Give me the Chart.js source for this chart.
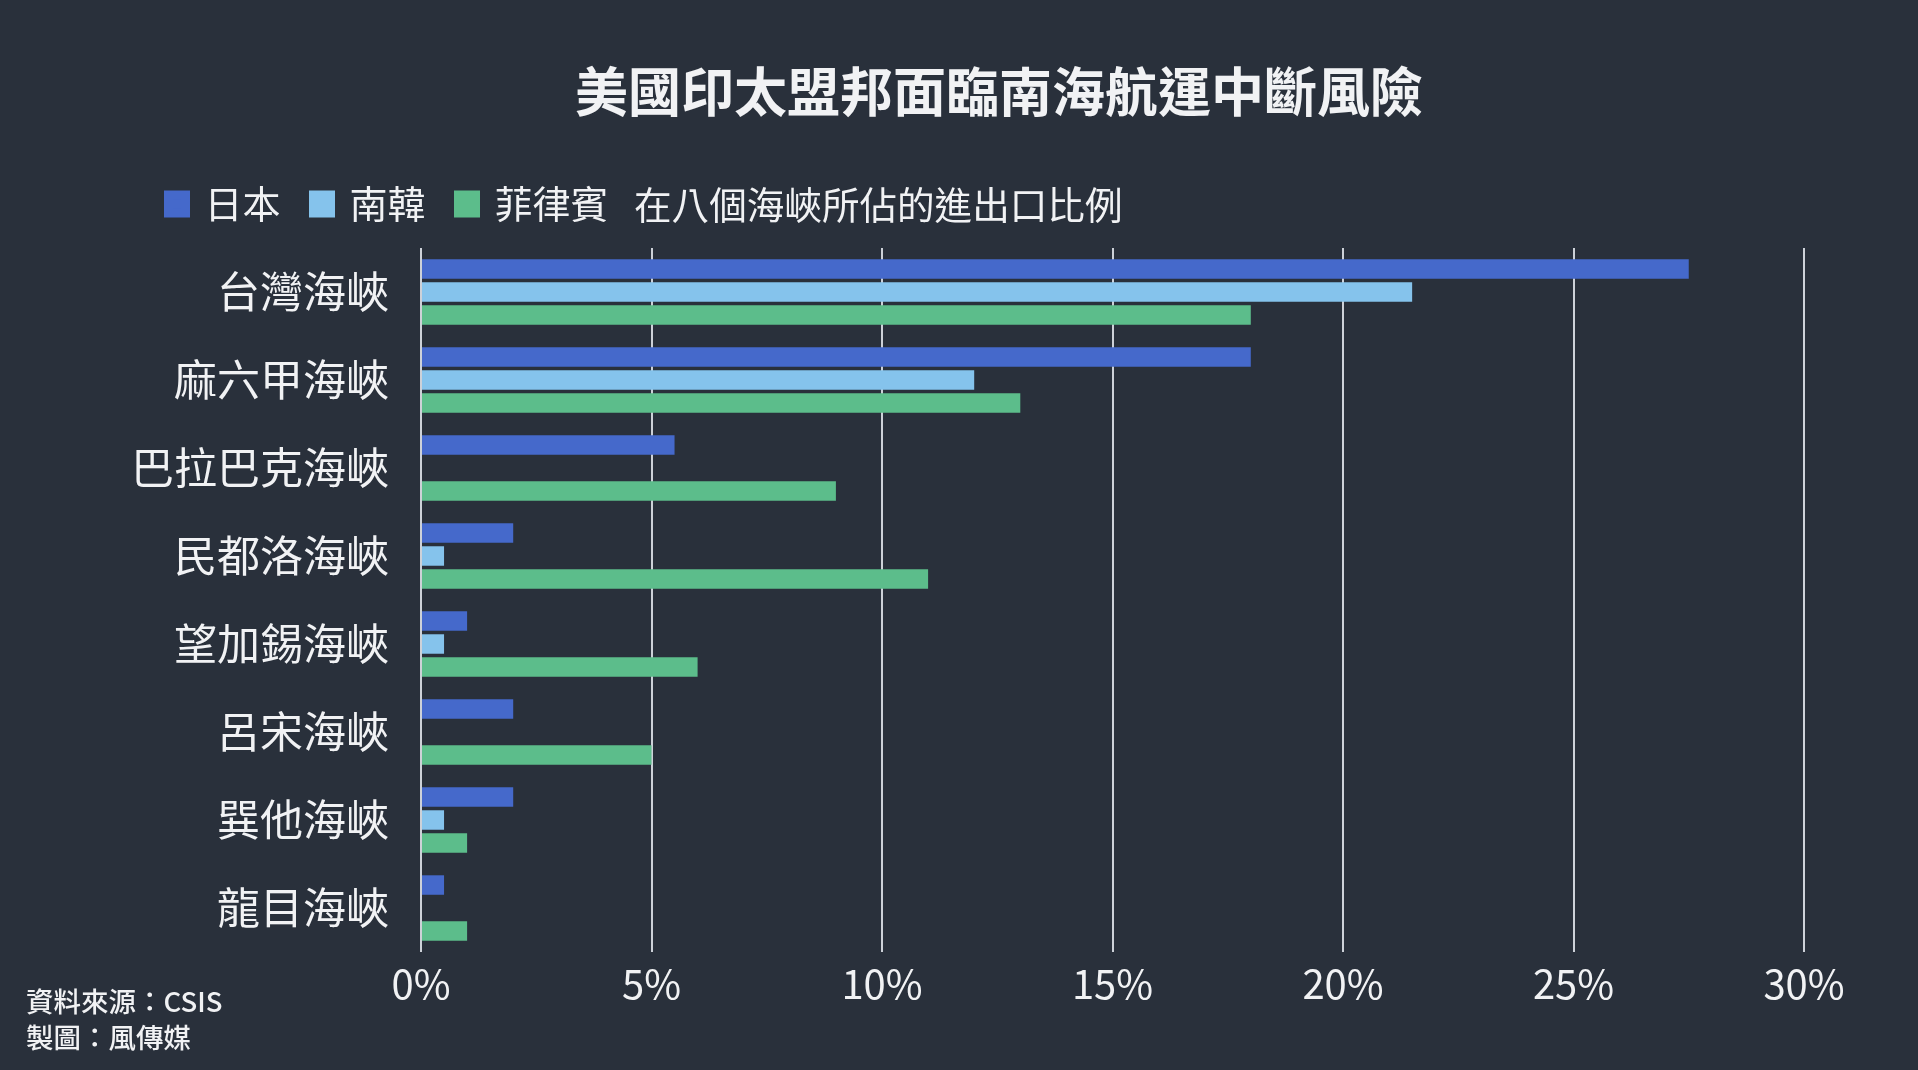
<!DOCTYPE html>
<html>
<head>
<meta charset="utf-8">
<script src="https://cdn.jsdelivr.net/npm/chart.js@4"></script>
<style>
  html, body { margin: 0; padding: 0; background: #29303b; }
  #wrap { position: relative; width: 1918px; height: 1070px; }
  canvas { display: block; }
</style>
</head>
<body>
<div id="wrap"><canvas id="c" width="1918" height="1070"></canvas></div>
<script>
const titleText = '美國印太盟邦面臨南海航運中斷風險';
const subtitleText = '在八個海峽所佔的進出口比例';
const sourceLines = ['資料來源：CSIS', '製圖：風傳媒'];
const categories = ['台灣海峽', '麻六甲海峽', '巴拉巴克海峽', '民都洛海峽', '望加錫海峽', '呂宋海峽', '巽他海峽', '龍目海峽'];
const seriesNames = ['日本', '南韓', '菲律賓'];
const japan = [27.5, 18, 5.5, 2, 1, 2, 2, 0.5];
const korea = [21.5, 12, 0, 0.5, 0.5, 0, 0.5, 0];
const philippines = [18, 13, 9, 11, 6, 5, 1, 1];
const xMax = 30;
const xStep = 5;

const FONT = '"Noto Sans CJK TC", "Noto Sans", sans-serif';
const TEXT = '#f1f2f4';

const legendGap = {
  id: 'legendGap',
  beforeInit(chart) {
    const orig = chart.legend.fit;
    chart.legend.fit = function () {
      orig.bind(chart.legend)();
      this.height += 15;
    };
  }
};

const extraText = {
  id: 'extraText',
  afterDraw(chart) {
    const ctx = chart.ctx;
    ctx.save();
    ctx.fillStyle = TEXT;
    ctx.textBaseline = 'middle';
    ctx.textAlign = 'center';
    ctx.font = 'bold 53px ' + FONT;
    ctx.fillText(titleText, 999, 92);
    ctx.textAlign = 'left';
    ctx.font = '37.6px ' + FONT;
    ctx.fillText(subtitleText, 634, 205);
    ctx.font = '500 27.5px ' + FONT;
    ctx.fillText(sourceLines[0], 26, 1002);
    ctx.fillText(sourceLines[1], 26, 1038);
    ctx.restore();
  }
};

new Chart(document.getElementById('c'), {
  type: 'bar',
  data: {
    labels: categories,
    datasets: [
      { label: seriesNames[0], data: japan, backgroundColor: '#4569cb' },
      { label: seriesNames[1], data: korea, backgroundColor: '#85c3ec' },
      { label: seriesNames[2], data: philippines, backgroundColor: '#5cbd8b' }
    ]
  },
  options: {
    indexAxis: 'y',
    responsive: false,
    animation: false,
    devicePixelRatio: 1,
    layout: { padding: { left: 135.5, right: 114, top: 152, bottom: 0 } },
    datasets: { bar: { categoryPercentage: 0.783, barPercentage: 0.848, borderWidth: 0 } },
    plugins: {
      legend: {
        position: 'top',
        align: 'start',
        labels: {
          color: TEXT,
          font: { family: FONT, size: 38 },
          boxWidth: 17,
          boxHeight: 18,
          padding: 33,
          generateLabels(chart) {
            const items = Chart.defaults.plugins.legend.labels.generateLabels(chart);
            items.forEach(it => {
              it.strokeStyle = it.fillStyle;
              it.lineWidth = 9;
              it.lineJoin = 'miter';
            });
            return items;
          }
        }
      },
      tooltip: { enabled: false }
    },
    scales: {
      x: {
        position: 'bottom',
        min: 0,
        max: xMax,
        ticks: {
          stepSize: xStep,
          color: TEXT,
          font: { family: FONT, size: 40 },
          padding: 8,
          callback: v => v + '%'
        },
        grid: { color: '#cdd1d8', lineWidth: 2, drawTicks: false },
        border: { display: false },
        afterFit: s => { s.height = 118; }
      },
      y: {
        ticks: {
          color: TEXT,
          font: { family: FONT, size: 43 },
          padding: 24
        },
        grid: { display: false },
        border: { display: false },
        afterFit: s => { s.width = 285.5; }
      }
    }
  },
  plugins: [legendGap, extraText]
});
</script>
</body>
</html>
